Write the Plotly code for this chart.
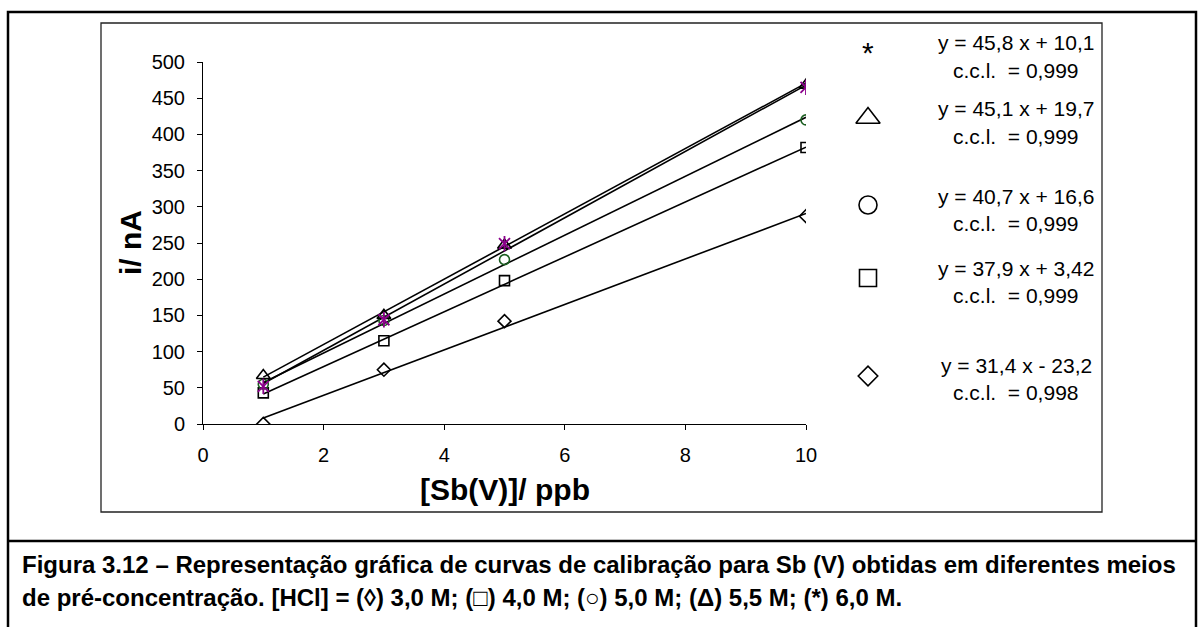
import numpy as np
import plotly.graph_objects as go

# Sb(V) concentration (ppb) and peak current (nA) for each HCl medium
x_ppb = [1, 3, 5, 10]
i_hcl_30 = [0, 75, 142, 287]      # 3,0 M  (diamond)
i_hcl_40 = [43, 115, 198, 382]    # 4,0 M  (square)
i_hcl_50 = [55, 143, 227, 420]    # 5,0 M  (circle)
i_hcl_55 = [67, 150, 247, 468]    # 5,5 M  (triangle)
i_hcl_60 = [52, 144, 249, 465]    # 6,0 M  (star)

# Regression coefficients reported for each curve
slopes = [31.4, 37.9, 40.7, 45.1, 45.8]
intercepts = [-23.2, 3.42, 16.6, 19.7, 10.1]
ccl = ["0,998", "0,999", "0,999", "0,999", "0,999"]
eq_labels = ["y = 31,4 x - 23,2", "y = 37,9 x + 3,42", "y = 40,7 x + 16,6",
             "y = 45,1 x + 19,7", "y = 45,8 x + 10,1"]

x_ticks = [0, 2, 4, 6, 8, 10]
y_ticks = list(range(0, 501, 50))

W, H = 1198, 627
FONT = "Liberation Sans, Arial, sans-serif"

series = [i_hcl_30, i_hcl_40, i_hcl_50, i_hcl_55, i_hcl_60]
symbols = ["diamond-open", "square-open", "circle-open", "triangle-up-open", None]
colors = ["black", "black", "#1b5e20", "black", "#8b008b"]
sizes = [10, 10, 10, 12, 11]

fig = go.Figure()

# fitted calibration lines over the measured range
x_fit = np.array([min(x_ppb), max(x_ppb)], dtype=float)
for m, b in zip(slopes, intercepts):
    fig.add_trace(go.Scatter(x=x_fit, y=m * x_fit + b, mode="lines",
                             line=dict(color="black", width=1.6),
                             hoverinfo="skip", showlegend=False))

# measured points
for ys, sym, col, sz in zip(series, symbols, colors, sizes):
    if sym is None:
        # star marker: an x with a vertical bar
        for s in ["x-thin-open", "line-ns-open"]:
            fig.add_trace(go.Scatter(x=x_ppb, y=ys, mode="markers",
                                     marker=dict(symbol=s, size=sz, color=col,
                                                 line=dict(color=col, width=1.8)),
                                     showlegend=False))
    else:
        fig.add_trace(go.Scatter(x=x_ppb, y=ys, mode="markers",
                                 marker=dict(symbol=sym, size=sz, color=col,
                                             line=dict(color=col, width=1.6)),
                                 showlegend=False))

# legend block in pixel overlay coordinates: marker y, equation y, c.c.l. y
leg_rows = [
    (376, 365, 392),
    (278, 268, 295),
    (205, 196, 223),
    (118, 108, 136),
    (47, 42, 70),
]
leg_symbols = ["diamond-open", "square-open", "circle-open", "triangle-up-open"]
leg_sizes = [15, 17, 18, 21]
for k in range(4):
    fig.add_trace(go.Scatter(x=[868], y=[leg_rows[k][0]], mode="markers",
                             xaxis="x2", yaxis="y2",
                             marker=dict(symbol=leg_symbols[k], size=leg_sizes[k],
                                         color="black",
                                         line=dict(color="black", width=1.6)),
                             showlegend=False, hoverinfo="skip"))

annotations = []
annotations.append(dict(x=868, y=leg_rows[4][0] + 5, xref="x2", yref="y2",
                        text="*", showarrow=False,
                        font=dict(family=FONT, size=30, color="black")))
for k in range(5):
    annotations.append(dict(
        x=1016, y=leg_rows[k][1], xref="x2", yref="y2", showarrow=False,
        text=eq_labels[k], font=dict(family=FONT, size=21, color="black")))
    annotations.append(dict(
        x=1016, y=leg_rows[k][2], xref="x2", yref="y2", showarrow=False,
        text="c.c.l.\u00a0\u00a0= " + ccl[k],
        font=dict(family=FONT, size=21, color="black")))

# axis titles
annotations.append(dict(x=505, y=489, xref="x2", yref="y2", showarrow=False,
                        text="<b>[Sb(V)]/ ppb</b>",
                        font=dict(family=FONT, size=30, color="black")))
annotations.append(dict(x=130, y=243, xref="x2", yref="y2", showarrow=False,
                        text="<b>i/ nA</b>", textangle=-90,
                        font=dict(family=FONT, size=30, color="black")))

# caption
cap1 = ("Figura 3.12 \u2013 Representa\u00e7\u00e3o gr\u00e1fica de curvas de "
        "calibra\u00e7\u00e3o para Sb (V) obtidas em diferentes meios")
cap2 = ("de pr\u00e9-concentra\u00e7\u00e3o. [HCl] = (\u25ca) 3,0 M; (\u25a1) 4,0 M; "
        "(\u25cb) 5,0 M; (\u0394) 5,5 M; (*) 6,0 M.")
for txt, yy in [(cap1, 564), (cap2, 597)]:
    annotations.append(dict(x=20, y=yy, xref="x2", yref="y2", xanchor="left",
                            showarrow=False, text="<b>" + txt + "</b>",
                            font=dict(family=FONT, size=24, color="black")))

shapes = [
    # outer frame and caption separator
    dict(type="rect", xref="x2", yref="y2", x0=8, x1=1196, y0=12, y1=640,
         line=dict(color="black", width=2.5)),
    dict(type="line", xref="x2", yref="y2", x0=8, x1=1196, y0=541, y1=541,
         line=dict(color="black", width=2.5)),
    # chart area box
    dict(type="rect", xref="x2", yref="y2", x0=101, x1=1102, y0=23, y1=512,
         line=dict(color="#222222", width=1.3)),
]

px_l, px_r, px_t, px_b = 203, 806, 62, 424

fig.update_layout(
    width=W, height=H, autosize=False,
    margin=dict(l=0, r=0, t=0, b=0),
    paper_bgcolor="white", plot_bgcolor="rgba(0,0,0,0)",
    showlegend=False,
    xaxis=dict(domain=[px_l / W, px_r / W], range=[0, 10],
               tickvals=x_ticks, ticks="outside", ticklen=5, tickwidth=1,
               tickcolor="black", showline=True, linecolor="black", linewidth=1,
               showgrid=False, zeroline=False, automargin=False,
               ticklabelstandoff=8,
               tickfont=dict(family=FONT, size=20, color="black")),
    yaxis=dict(domain=[1 - px_b / H, 1 - px_t / H], range=[0, 500],
               tickvals=y_ticks, ticks="outside", ticklen=5, tickwidth=1,
               tickcolor="black", showline=True, linecolor="black", linewidth=1,
               showgrid=False, zeroline=False, automargin=False,
               ticklabelstandoff=8,
               tickfont=dict(family=FONT, size=20, color="black")),
    xaxis2=dict(domain=[0, 1], range=[0, W], visible=False, anchor="y2",
                fixedrange=True),
    yaxis2=dict(domain=[0, 1], range=[H, 0], visible=False, anchor="x2",
                fixedrange=True),
    annotations=annotations,
    shapes=shapes,
)

fig.write_html("out.html")
